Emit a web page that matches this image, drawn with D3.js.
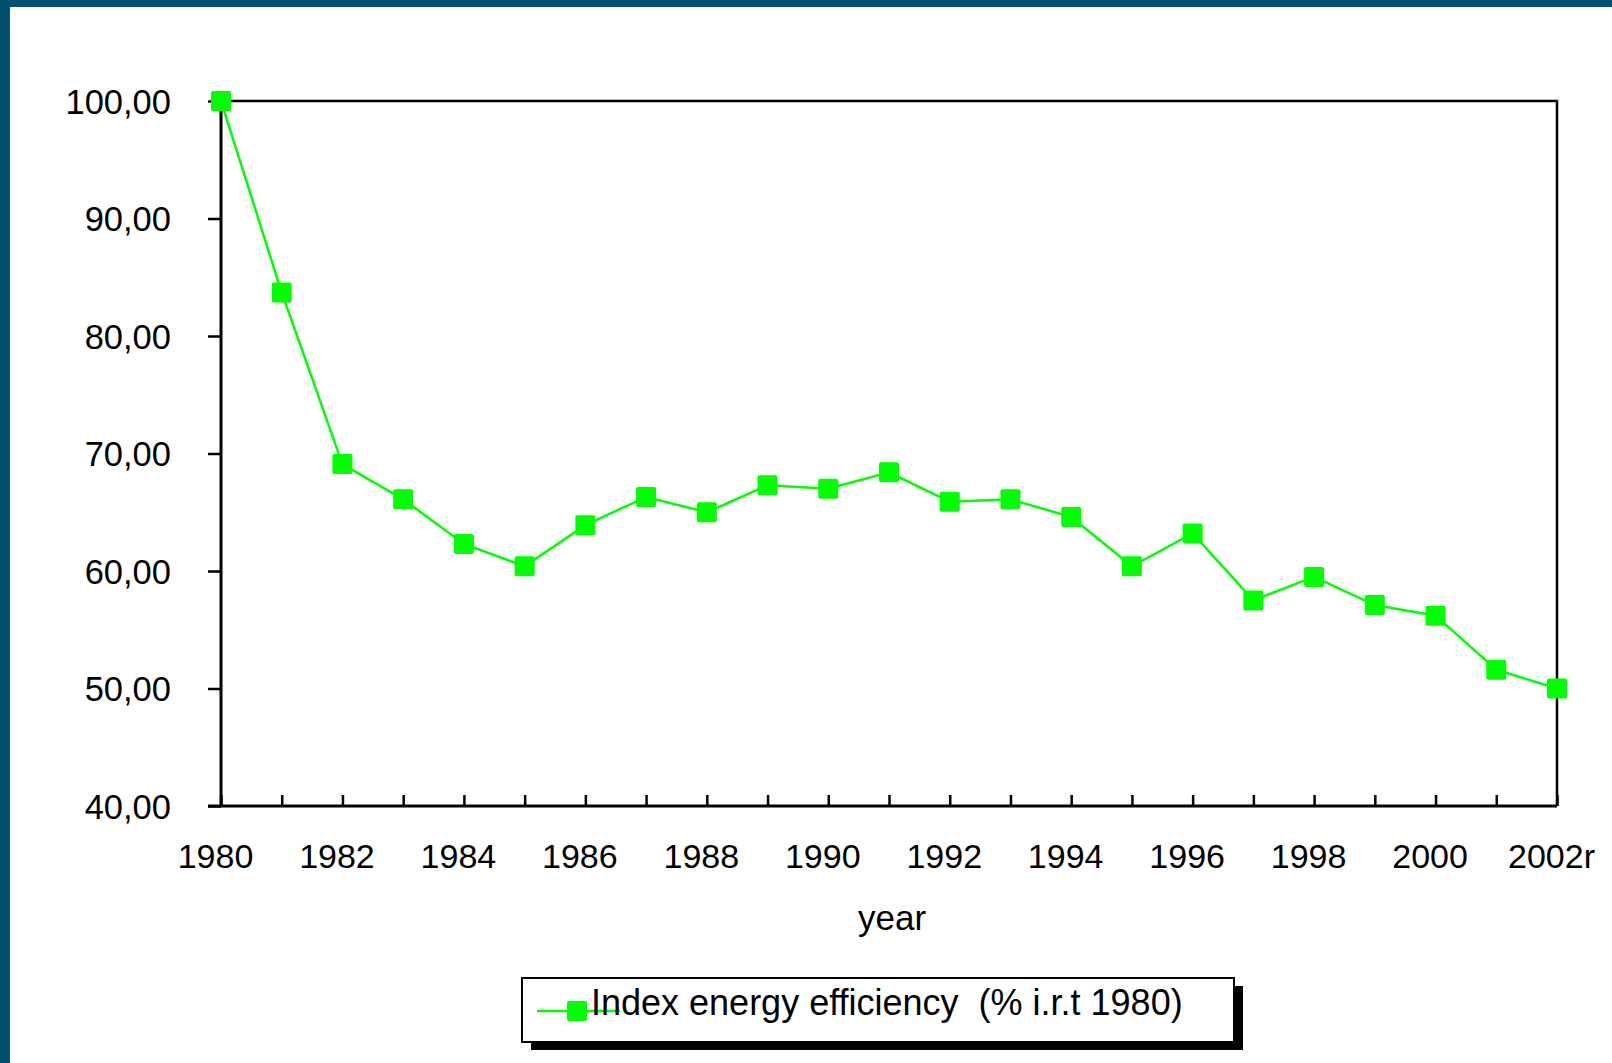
<!DOCTYPE html>
<html>
<head>
<meta charset="utf-8">
<script src="https://cdn.jsdelivr.net/npm/d3@7"></script>
<style>
  html, body { margin: 0; padding: 0; background: #ffffff; }
  svg { display: block; }
  text { font-family: "Liberation Sans", Arial, sans-serif; fill: #000; }
</style>
</head>
<body>
<script>
// Years on the category axis (the last one is a revised figure)
const years = ["1980", "1981", "1982", "1983", "1984", "1985", "1986", "1987",
  "1988", "1989", "1990", "1991", "1992", "1993", "1994", "1995", "1996",
  "1997", "1998", "1999", "2000", "2001", "2002r"];

// Energy efficiency index, % relative to 1980
const efficiency = [100.0, 83.7, 69.1, 66.1, 62.3, 60.4, 63.9, 66.3, 65.0, 67.3,
  67.0, 68.4, 65.9, 66.1, 64.6, 60.4, 63.2, 57.5, 59.5, 57.1, 56.2, 51.6, 50.0];

const yTicks = [40, 50, 60, 70, 80, 90, 100];
const seriesName = "Index energy efficiency  (% i.r.t 1980)";
const xTitle = "year";

const W = 1612, H = 1063;
const plot = { left: 221, right: 1557, top: 101, bottom: 806 };
const green = "#00ff00";
const frameBlue = "#02506f";

const svg = d3.select("body").append("svg")
  .attr("width", W).attr("height", H);

// page frame: dark band along the top and left edges
svg.append("rect").attr("x", 0).attr("y", 0).attr("width", W).attr("height", H).attr("fill", "#fff");
svg.append("rect").attr("x", 0).attr("y", 0).attr("width", W).attr("height", 7).attr("fill", frameBlue);
svg.append("rect").attr("x", 0).attr("y", 0).attr("width", 10).attr("height", H).attr("fill", frameBlue);

const x = d3.scalePoint().domain(years).range([plot.left, plot.right]).padding(0);
const y = d3.scaleLinear().domain([40, 100]).range([plot.bottom, plot.top]);

// plot box (top and right edges)
svg.append("path")
  .attr("d", `M${plot.left},${plot.top}H${plot.right}V${plot.bottom}`)
  .attr("fill", "none").attr("stroke", "#000").attr("stroke-width", 2.5);

// y axis
const fmt = d => d3.format(".2f")(d).replace(".", ",");
const yAxis = svg.append("g")
  .attr("transform", `translate(${plot.left},0)`)
  .call(d3.axisLeft(y).tickValues(yTicks).tickFormat(fmt).tickSize(13).tickPadding(37));
yAxis.select(".domain").attr("stroke", "#000").attr("stroke-width", 3)
  .attr("d", `M0,${plot.top}V${plot.bottom}`);
yAxis.selectAll(".tick line").attr("stroke", "#000").attr("stroke-width", 2.5);
yAxis.selectAll(".tick text")
  .attr("font-size", 34.5).attr("dy", "0.36em")
  .style("font-family", "'Liberation Sans', Arial, sans-serif");

// x axis: ticks point inward, every other year labelled
const xAxis = svg.append("g")
  .attr("transform", `translate(0,${plot.bottom})`)
  .call(d3.axisBottom(x).tickSizeInner(-11).tickSizeOuter(0).tickPadding(38)
    .tickFormat((d, i) => i % 2 === 0 ? d : ""));
xAxis.select(".domain").attr("stroke", "#000").attr("stroke-width", 3)
  .attr("d", `M${plot.left - 13},0H${plot.right}`);
xAxis.selectAll(".tick line").attr("stroke", "#000").attr("stroke-width", 2.5);
xAxis.selectAll(".tick text")
  .attr("font-size", 34).attr("dx", -6)
  .style("font-family", "'Liberation Sans', Arial, sans-serif");

// axis title
svg.append("text")
  .attr("x", 892).attr("y", 930)
  .attr("text-anchor", "middle").attr("font-size", 35)
  .text(xTitle);

// series line
const line = d3.line()
  .x((d, i) => x(years[i]))
  .y(d => y(d));
svg.append("path")
  .datum(efficiency)
  .attr("d", line)
  .attr("fill", "none").attr("stroke", green).attr("stroke-width", 2.5);

// square markers
const m = 20;
svg.append("g").selectAll("rect")
  .data(efficiency)
  .join("rect")
  .attr("x", (d, i) => x(years[i]) - m / 2)
  .attr("y", d => y(d) - m / 2)
  .attr("width", m).attr("height", m)
  .attr("rx", 2)
  .attr("fill", green);

// legend with drop shadow
const lg = { x: 522, y: 978, w: 712, h: 64 };
svg.append("rect")
  .attr("x", lg.x + 9).attr("y", lg.y + 8).attr("width", lg.w).attr("height", lg.h)
  .attr("fill", "#000");
svg.append("rect")
  .attr("x", lg.x).attr("y", lg.y).attr("width", lg.w).attr("height", lg.h)
  .attr("fill", "#fff").attr("stroke", "#000").attr("stroke-width", 2);
svg.append("line")
  .attr("x1", 537).attr("x2", 620).attr("y1", 1011).attr("y2", 1011)
  .attr("stroke", green).attr("stroke-width", 2.5);
svg.append("rect")
  .attr("x", 577 - m / 2).attr("y", 1011 - m / 2).attr("width", m).attr("height", m)
  .attr("rx", 2).attr("fill", green);
svg.append("text")
  .attr("x", 591).attr("y", 1015)
  .attr("font-size", 36)
  .style("white-space", "pre")
  .text(seriesName);
</script>
</body>
</html>
